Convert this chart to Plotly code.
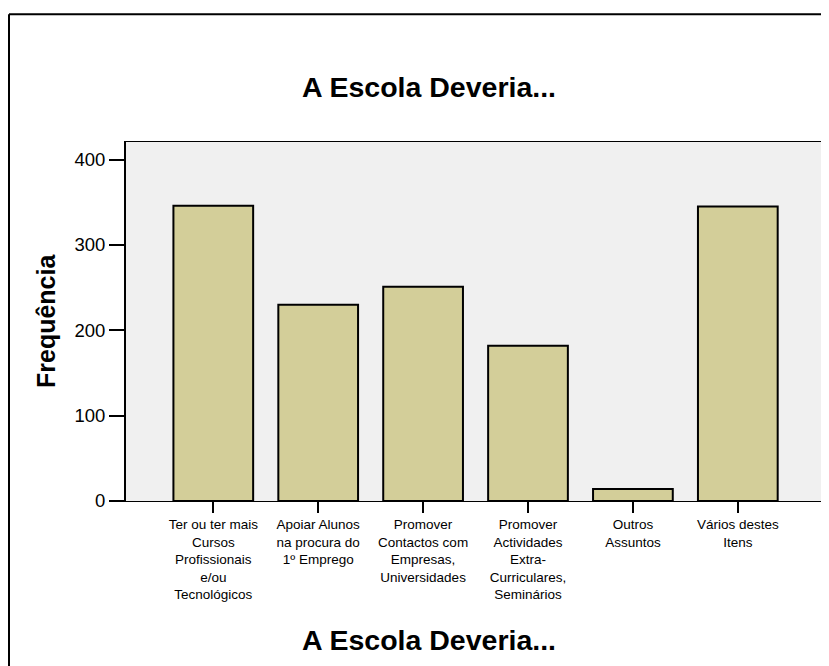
import plotly.graph_objects as go

categories = [
    "Ter ou ter mais<br>Cursos<br>Profissionais<br>e/ou<br>Tecnológicos",
    "Apoiar Alunos<br>na procura do<br>1º Emprego",
    "Promover<br>Contactos com<br>Empresas,<br>Universidades",
    "Promover<br>Actividades<br>Extra-<br>Curriculares,<br>Seminários",
    "Outros<br>Assuntos",
    "Vários destes<br>Itens",
]
frequencies = [346, 230, 251, 182, 14, 345]
y_ticks = [0, 100, 200, 300, 400]

FONT = "Liberation Sans, Arial, sans-serif"
OFF = 8  # page body margin
W, H = 829 - OFF, 666 - OFF
L, R, T, B = 126 - OFF, 4, 142 - OFF, 165
pw, ph = W - L - R, H - T - B

def px(x):
    return (x - OFF - L) / pw

def py(y):
    return (H - B - (y - OFF)) / ph

fig = go.Figure(
    go.Bar(
        x=list(range(len(categories))),
        y=frequencies,
        width=0.76,
        marker=dict(color="#D3CE99", line=dict(color="black", width=2)),
        hoverinfo="skip",
    )
)

fig.update_layout(
    width=W,
    height=H,
    margin=dict(l=L, r=R, t=T, b=B, pad=0),
    paper_bgcolor="white",
    plot_bgcolor="#F0F0F0",
    showlegend=False,
    font=dict(family=FONT, color="black"),
    xaxis=dict(
        tickmode="array",
        tickvals=list(range(len(categories))),
        ticktext=categories,
        range=[-0.832, 5.831],
        ticks="outside",
        ticklen=11,
        tickwidth=2,
        tickcolor="black",
        tickfont=dict(size=13.5, family=FONT),
        showline=True,
        linecolor="black",
        linewidth=1,
        mirror=True,
        showgrid=False,
        zeroline=False,
        tickangle=0,
    ),
    yaxis=dict(
        tickmode="array",
        tickvals=y_ticks,
        range=[0, 420.6],
        ticks="outside",
        ticklen=15,
        tickwidth=2,
        tickcolor="black",
        tickfont=dict(size=18.5, family=FONT),
        showline=True,
        linecolor="black",
        linewidth=2,
        showgrid=False,
        zeroline=False,
    ),
    shapes=[
        dict(type="line", xref="paper", yref="paper", x0=1, x1=1, y0=0, y1=1,
             line=dict(color="#888888", width=1)),
        dict(type="line", xref="paper", yref="paper", x0=px(9), x1=px(900),
             y0=py(14.3), y1=py(14.3), line=dict(color="black", width=2)),
        dict(type="line", xref="paper", yref="paper", x0=px(9), x1=px(9),
             y0=py(14.3), y1=py(700), line=dict(color="black", width=2)),
    ],
    annotations=[
        dict(text="<b>A Escola Deveria...</b>", xref="paper", yref="paper",
             x=px(428.5), y=py(87), xanchor="center", yanchor="middle",
             showarrow=False, font=dict(size=28.5, family=FONT)),
        dict(text="<b>A Escola Deveria...</b>", xref="paper", yref="paper",
             x=px(428.5), y=py(640), xanchor="center", yanchor="middle",
             showarrow=False, font=dict(size=28.5, family=FONT)),
        dict(text="<b>Frequência</b>", xref="paper", yref="paper",
             x=px(46), y=py(321), xanchor="center", yanchor="middle",
             textangle=-90, showarrow=False, font=dict(size=25, family=FONT)),
    ],
)

fig.write_html("out.html")
